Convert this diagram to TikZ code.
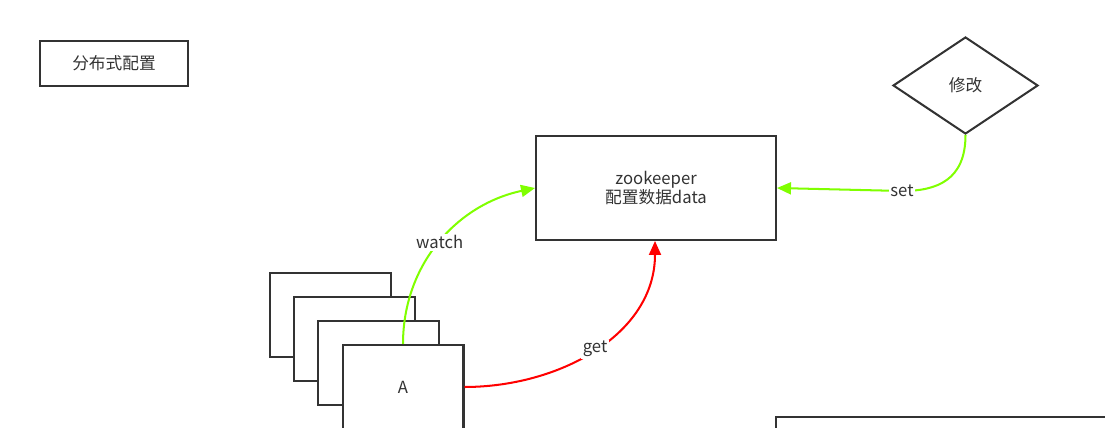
\documentclass[tikz,border=0pt]{standalone}
\usepackage{fontspec}
\setmainfont{Noto Sans CJK SC}
\usepackage{tikz}
\usetikzlibrary{arrows.meta,shapes,positioning}
\usepackage{xcolor}
\definecolor{zkgray}{RGB}{51,51,51}
\definecolor{zkgreen}{RGB}{128,255,0}
\definecolor{zkred}{RGB}{255,0,0}
\tikzstyle{box} = [draw=zkgray,line width=1.15pt,fill=white,text=zkgray,inner sep=0pt]
\tikzstyle{decision} = [diamond,draw=zkgray,line width=1.15pt,text=zkgray,inner sep=0pt,minimum width=2.9cm,minimum height=1.94cm]
\tikzstyle{arrow} = [line width=1.15pt,-{Triangle[length=0.28cm,width=0.24cm]}]
\tikzstyle{lbl} = [fill=white,text=zkgray,inner sep=1pt]

\begin{document}
\begin{tikzpicture}[x=0.02cm,y=-0.02cm,font=\fontsize{9.5}{11}\selectfont]
\useasboundingbox (0,0) rectangle (1105,428);

% Title
\node[box,minimum width=2.96cm,minimum height=0.9cm] (title) at (114,63.5) {分布式配置};

% Server and change
\node[box,minimum width=4.8cm,minimum height=2.08cm,align=center] (zk) at (656,188) {zookeeper\\配置数据data};
\node[decision] (mod) at (965.5,85.5) {修改};

% Clients
\foreach \i in {0,1,2}
  \node[box,minimum width=2.42cm,minimum height=1.68cm] (c\i) at (330.5+24*\i,315+24*\i) {};
\node[box,minimum width=2.42cm,minimum height=1.68cm] (ca) at (403,387) {A};

% Cut box
\draw[zkgray,line width=1.15pt] (776,470) -- (776,417) -- (1130,417);

% Arrows
\coordinate (setbend) at (902,191);
\draw[arrow,zkgreen] (ca.north) to[out=90,in=192] node[lbl,pos=0.5] {watch} (zk.west);
\draw[arrow,zkred] (ca.east) to[out=0,in=-90] node[lbl,pos=0.5] {get} ([xshift=-0.02cm]zk.south);
\draw[arrow,zkgreen] (mod.south) .. controls +(0,45) and +(35,0) .. (setbend) node[lbl] {set} -- (zk.east);
\end{tikzpicture}
\end{document}
